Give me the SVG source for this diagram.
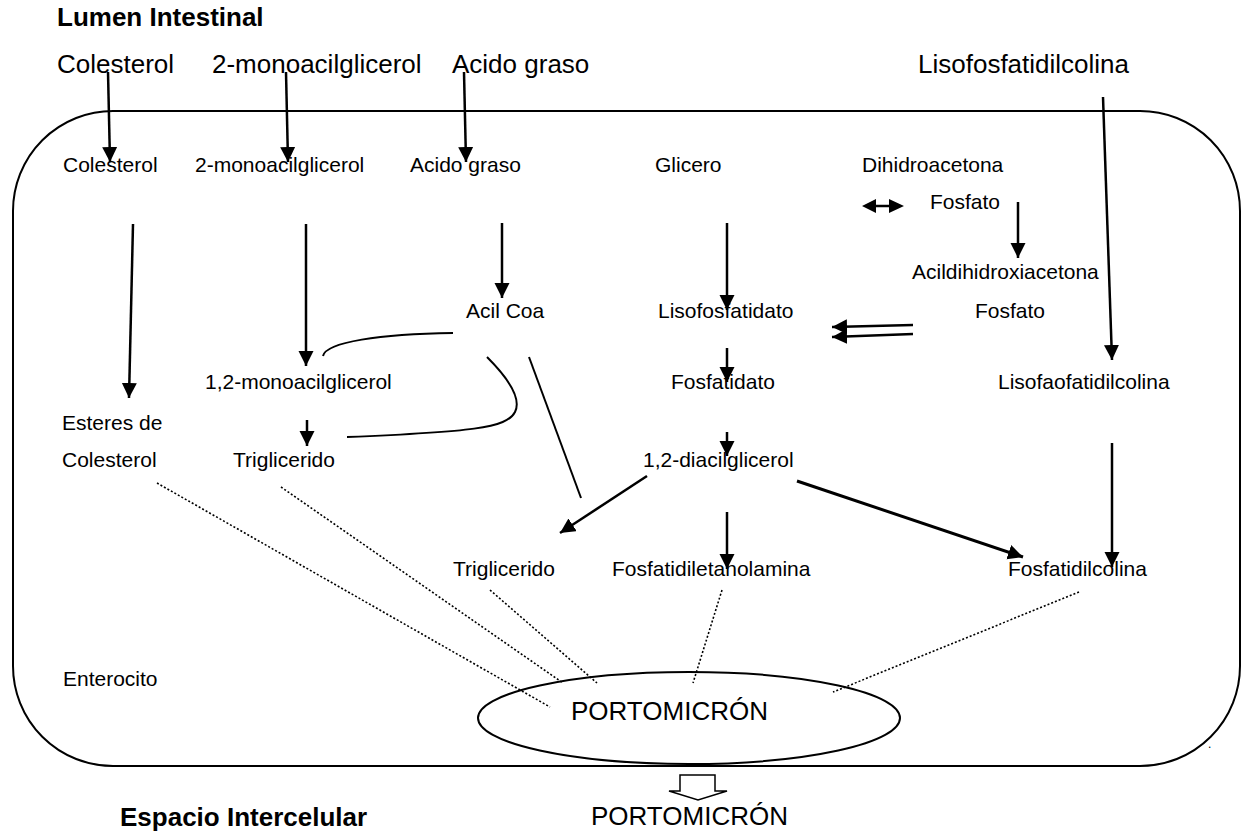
<svg xmlns="http://www.w3.org/2000/svg" width="1242" height="831" viewBox="0 0 1242 831">
<defs>
<style>
text{font-family:"Liberation Sans",Arial,sans-serif;fill:#000}
.big{font-size:26px}
.bold{font-size:26px;font-weight:bold}
.s{font-size:21px}
.arr{stroke:#000;stroke-width:2.5;fill:none;marker-end:url(#ah)}
.thin{stroke:#000;stroke-width:2;fill:none}
.dot{stroke:#000;stroke-width:1.6;fill:none;stroke-dasharray:2 2}
</style>
<marker id="ah" markerWidth="16" markerHeight="16" refX="15" refY="7.5" orient="auto" markerUnits="userSpaceOnUse"><path d="M0,0 L15,7.5 L0,15 Z" fill="#000"/></marker>
</defs>
<rect id="enterocito" x="13" y="111" width="1227" height="655" rx="100" ry="100" fill="none" stroke="#000" stroke-width="2"/>
<g id="labels">
<text class="bold" x="57" y="26">Lumen Intestinal</text>
<text class="bold" x="120" y="826">Espacio Intercelular</text>
<text class="s" x="63" y="686">Enterocito</text>
<text x="1208" y="748" style="font-size:12px">.</text>
</g>
<g id="n-col-lumen"><text class="big" x="57" y="73">Colesterol</text></g>
<g id="n-mag-lumen"><text class="big" x="212" y="73">2-monoacilglicerol</text></g>
<g id="n-ag-lumen"><text class="big" x="452" y="73">Acido graso</text></g>
<g id="n-lpc-lumen"><text class="big" x="918" y="73">Lisofosfatidilcolina</text></g>
<g id="n-col"><text class="s" x="63" y="172">Colesterol</text></g>
<g id="n-mag"><text class="s" x="195" y="172">2-monoacilglicerol</text></g>
<g id="n-ag"><text class="s" x="410" y="172">Acido graso</text></g>
<g id="n-glic"><text class="s" x="655" y="172">Glicero</text></g>
<g id="n-dhap"><text class="s" x="862" y="172">Dihidroacetona</text><text class="s" x="930" y="209">Fosfato</text></g>
<g id="n-adhap"><text class="s" x="912" y="279">Acildihidroxiacetona</text><text class="s" x="975" y="318">Fosfato</text></g>
<g id="n-acilcoa"><text class="s" x="466" y="318">Acil Coa</text></g>
<g id="n-lisofos"><text class="s" x="658" y="318">Lisofosfatidato</text></g>
<g id="n-12mag"><text class="s" x="205" y="389">1,2-monoacilglicerol</text></g>
<g id="n-fosfatidato"><text class="s" x="671" y="389">Fosfatidato</text></g>
<g id="n-lpc"><text class="s" x="998" y="389">Lisofaofatidilcolina</text></g>
<g id="n-esteres"><text class="s" x="62" y="430">Esteres de</text><text class="s" x="62" y="467">Colesterol</text></g>
<g id="n-tg1"><text class="s" x="233" y="467">Triglicerido</text></g>
<g id="n-dag"><text class="s" x="643" y="467">1,2-diacilglicerol</text></g>
<g id="n-tg2"><text class="s" x="453" y="576">Triglicerido</text></g>
<g id="n-pe"><text class="s" x="612" y="576">Fosfatidiletanolamina</text></g>
<g id="n-pc"><text class="s" x="1008" y="576">Fosfatidilcolina</text></g>
<g id="n-portomicron"><ellipse cx="689" cy="718" rx="211" ry="46" fill="none" stroke="#000" stroke-width="2"/><text class="big" x="571" y="720">PORTOMICRÓN</text></g>
<g id="n-portomicron-out"><text class="big" x="591" y="825">PORTOMICRÓN</text></g>
<g id="connectors">
<line class="arr" x1="108" y1="72" x2="110" y2="162"/>
<line class="arr" x1="286" y1="72" x2="288" y2="162"/>
<line class="arr" x1="464" y1="72" x2="466" y2="162"/>
<line class="arr" x1="1103" y1="97" x2="1112" y2="360"/>
<line class="arr" x1="133" y1="224" x2="129" y2="398"/>
<line class="arr" x1="306" y1="224" x2="306" y2="366"/>
<line class="arr" x1="502" y1="223" x2="502" y2="298"/>
<line class="arr" x1="727" y1="223" x2="727" y2="310"/>
<line class="arr" x1="1018" y1="202" x2="1018" y2="258"/>
<line class="arr" x1="727" y1="348" x2="727" y2="382"/>
<line class="arr" x1="307" y1="420" x2="307" y2="446"/>
<line class="arr" x1="727" y1="432" x2="727" y2="456"/>
<line class="arr" x1="727" y1="512" x2="727" y2="569"/>
<line class="arr" x1="647" y1="476" x2="560" y2="533"/>
<line class="arr" x1="797" y1="481" x2="1023" y2="557" style="stroke-width:3"/>
<line class="arr" x1="1112" y1="443" x2="1112" y2="567"/>
<line class="arr" x1="913" y1="325" x2="832" y2="327"/>
<line class="arr" x1="913" y1="334" x2="832" y2="337"/>
<g id="dbl-arrow"><line x1="872" y1="206" x2="893" y2="206" stroke="#000" stroke-width="2.5"/><path d="M862,206 L876,199 L876,213 Z M904,206 L889,199 L889,213 Z" fill="#000"/></g>
<path class="thin" d="M323,356 C326,342 380,334 453,333"/>
<path class="thin" d="M487,357 C508,378 522,398 515,412 C507,428 470,432 347,437"/>
<line class="thin" x1="529" y1="357" x2="581" y2="498"/>
<line class="dot" x1="157" y1="483" x2="550" y2="707"/>
<line class="dot" x1="281" y1="487" x2="563" y2="683"/>
<line class="dot" x1="490" y1="590" x2="597" y2="683"/>
<line class="dot" x1="722" y1="590" x2="693" y2="683"/>
<line class="dot" x1="1079" y1="592" x2="833" y2="692"/>
<path d="M680,775 L715,775 L715,791 L727,791 L698,800 L669,791 L680,791 Z" fill="#fff" stroke="#000" stroke-width="1.5"/>
</g>
</svg>
